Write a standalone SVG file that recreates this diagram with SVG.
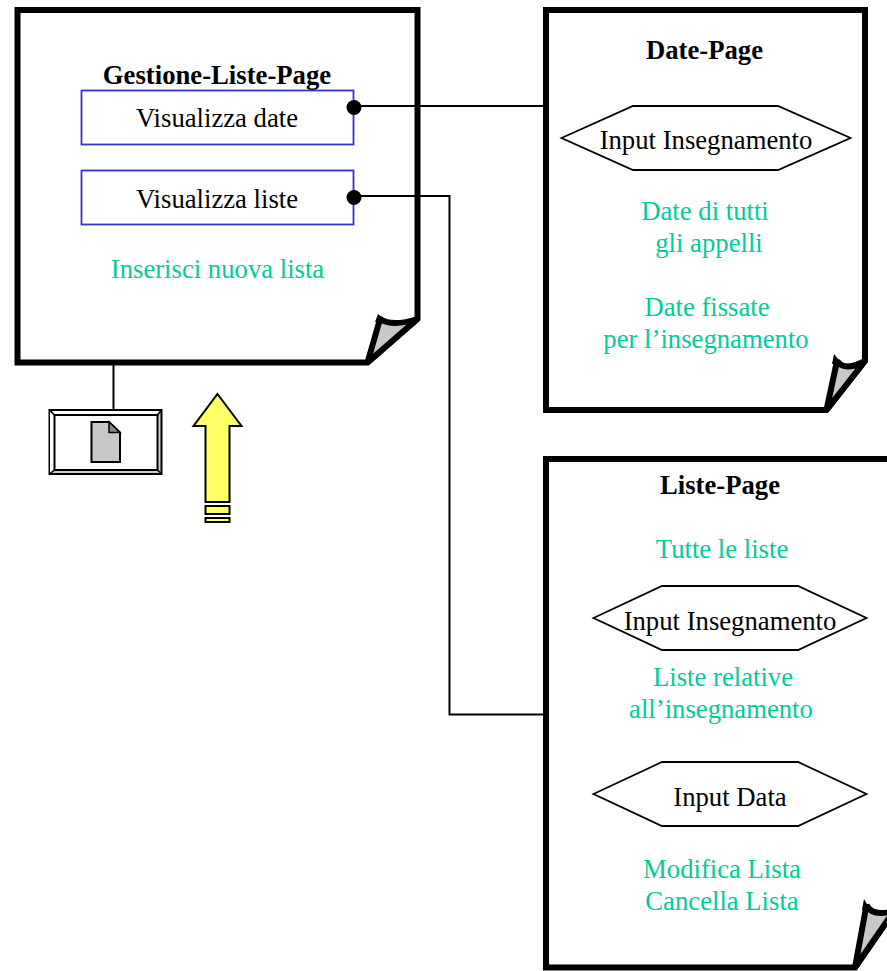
<svg xmlns="http://www.w3.org/2000/svg" width="887" height="971" viewBox="0 0 887 971">
<style>
text{font-family:"Liberation Serif","Times New Roman",serif;font-size:26.7px;text-anchor:middle;fill:#000}
.t{font-weight:bold}
text.g{fill:#00cc99}
.page{fill:#fff;stroke:#000;stroke-width:6;stroke-linejoin:miter}
.fold{fill:#c8c8c8;stroke:#000;stroke-width:6;stroke-linejoin:bevel}
.btn{fill:#fff;stroke:#3333cc;stroke-width:1.800}
.hex{fill:#fff;stroke:#000;stroke-width:1.800}
.c{fill:none;stroke:#000;stroke-width:2}
.y{fill:#ffff66;stroke:#000;stroke-width:2}
</style>
<g id="page-gestione">
<path class="page" d="M17.5 10H417.500V319L367.500 362.500H17.5Z"/>
<path class="fold" d="M367.500 362.500L380 319Q392 327 417.500 319Z"/>
<path d="M375 322L378 314L386 320Z"/>
<text class="t" x="217" y="84">Gestione-Liste-Page</text>
<rect class="btn" x="81.500" y="90.500" width="272" height="54"/>
<text x="217" y="126.500">Visualizza date</text>
<rect class="btn" x="81.500" y="170.500" width="272" height="54"/>
<text x="217" y="207.500">Visualizza liste</text>
<text class="g" x="217.500" y="278">Inserisci nuova lista</text>
</g>
<g id="page-date">
<path class="page" d="M546 10H865V361L826.500 410H546Z"/>
<path class="fold" d="M826.500 410L837 361Q845 372 865 361Z"/>
<path d="M832 364L834 354L842 364Z"/>
<text class="t" x="704.500" y="59">Date-Page</text>
<path class="hex" d="M561.500 138L633 106H778L850.500 138L778 170H633Z"/>
<text x="706" y="148.500">Input Insegnamento</text>
<text class="g" x="705" y="220">Date di tutti</text>
<text class="g" x="709" y="252">gli appelli</text>
<text class="g" x="707" y="316">Date fissate</text>
<text class="g" x="706" y="348">per l’insegnamento</text>
</g>
<g id="page-liste">
<path class="page" d="M546 459H894V911L855 967.500H546Z"/>
<path class="fold" d="M855 967.500L866.500 905Q872 917 894 911Z"/>
<path d="M862 910L864 899L871 911Z"/>
<text class="t" x="720" y="493.500">Liste-Page</text>
<text class="g" x="722" y="558">Tutte le liste</text>
<path class="hex" d="M593.500 618L662 586H798L866.500 618L798 650H662Z"/>
<text x="730" y="630">Input Insegnamento</text>
<text class="g" x="723" y="686">Liste relative</text>
<text class="g" x="721" y="718">all’insegnamento</text>
<path class="hex" d="M593.500 794L662 762H798L866.500 794L798 826H662Z"/>
<text x="730" y="806">Input Data</text>
<text class="g" x="722" y="878">Modifica Lista</text>
<text class="g" x="722" y="910">Cancella Lista</text>
</g>
<g id="connectors">
<path class="c" d="M354 106H546"/>
<path class="c" d="M354 196H449.500V714.500H546"/>
<path class="c" d="M113.500 365V410"/>
<circle cx="354" cy="107.500" r="7.500"/>
<circle cx="354" cy="197.500" r="7.500"/>
</g>
<g id="window-icon">
<rect x="49.500" y="410" width="112" height="64" fill="#ccc" stroke="#000" stroke-width="2"/>
<path d="M50 411H161L157 415H54V470L50 473Z" fill="#fff"/>
<rect x="54.500" y="415" width="103" height="55" fill="#fff" stroke="#000" stroke-width="2"/>
<path d="M49.500 410L54.500 415M161.500 410L157.500 415M49.500 474L54.500 470M161.500 474L157.500 470" stroke="#000" stroke-width="1.500"/>
<path d="M91.500 422H109L120 432.500V462H91.500Z" fill="#c8c8c8" stroke="#000" stroke-width="2"/>
<path d="M109 422V432.500H120Z" fill="#888" stroke="#000" stroke-width="1.500"/>
</g>
<g id="up-arrow">
<path class="y" d="M217.500 394L241.500 426H229.500V502H205.500V426H193.500Z"/>
<rect class="y" x="205.500" y="506" width="24" height="8"/>
<rect class="y" x="205.500" y="518" width="24" height="4"/>
</g>
</svg>
